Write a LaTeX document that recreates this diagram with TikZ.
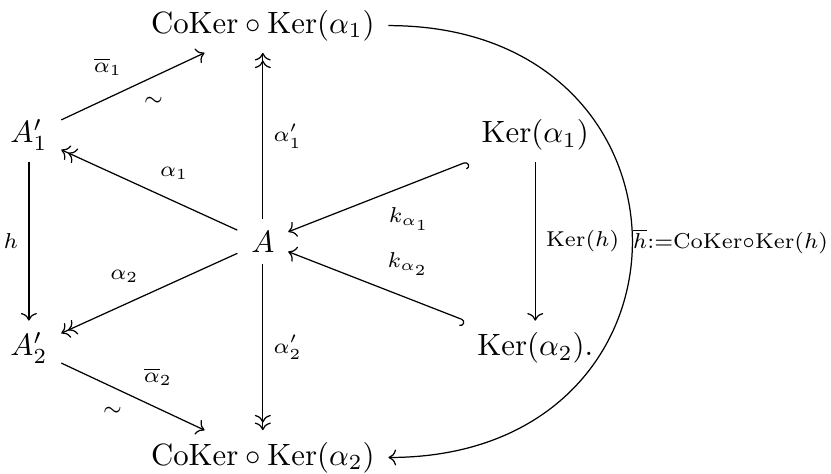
\documentclass[tikz,border=0pt]{standalone}
\usepackage{amsmath}
\usepackage{tikz}
\usetikzlibrary{arrows.meta}

\begin{document}
\begin{tikzpicture}[
  obj/.style={anchor=base, inner xsep=1ex, inner ysep=0.85ex},
  lbl/.style={execute at begin node=$\scriptstyle, execute at end node=$},
  arr/.style={-{Computer Modern Rightarrow}},
  epi/.style={-{Computer Modern Rightarrow[]Computer Modern Rightarrow[]}},
  mono/.style={{Hooks[right]}-{Computer Modern Rightarrow}}
]
  \useasboundingbox (0,0) rectangle (9.486,5.400);

  \node[obj] (c1) at (3.0, 5.02) {$\mathrm{CoKer}\circ\mathrm{Ker}(\alpha_1)$};
  \node[obj] (a1) at (0.33, 3.77) {$A'_1$};
  \node[obj] (k1) at (6.11, 3.77) {$\mathrm{Ker}(\alpha_1)$};
  \node[obj] (a)  at (3.0, 2.52) {$A$};
  \node[obj] (a2) at (0.33, 1.34) {$A'_2$};
  \node[obj] (k2) at (6.11, 1.34) {$\mathrm{Ker}(\alpha_2).$};
  \node[obj] (c2) at (3.0, 0.09) {$\mathrm{CoKer}\circ\mathrm{Ker}(\alpha_2)$};

  \draw[arr] (a1) -- node[lbl, above left] {\overline{\alpha}_1}
    node[lbl, below right] {\sim} (c1);
  \draw[epi] (a) -- node[lbl, above right] {\alpha_1} (a1);
  \draw[epi] (a) -- node[lbl, right] {\alpha'_1} (c1);
  \draw[arr] (a1) -- node[lbl, left] {h} (a2);
  \draw[epi] (a) -- node[lbl, above left] {\alpha_2} (a2);
  \draw[epi] (a) -- node[lbl, right] {\alpha'_2} (c2);
  \draw[arr] (a2) -- node[lbl, above right] {\overline{\alpha}_2}
    node[lbl, below left] {\sim} (c2);

  \draw[mono] (k1) -- node[lbl, below right] {k_{\alpha_1}} (a);
  \draw[mono] (k2) -- node[lbl, above right] {k_{\alpha_2}} (a);
  \draw[arr] (k1) -- node[lbl, right] {\mathrm{Ker}(h)} (k2);

  \draw[arr] (c1.east) to[out=0, in=0, looseness=1.93]
    node[lbl, right, inner xsep=0pt] {\overline{h}:=\mathrm{CoKer}\circ\mathrm{Ker}(h)} (c2.east);
\end{tikzpicture}
\end{document}
